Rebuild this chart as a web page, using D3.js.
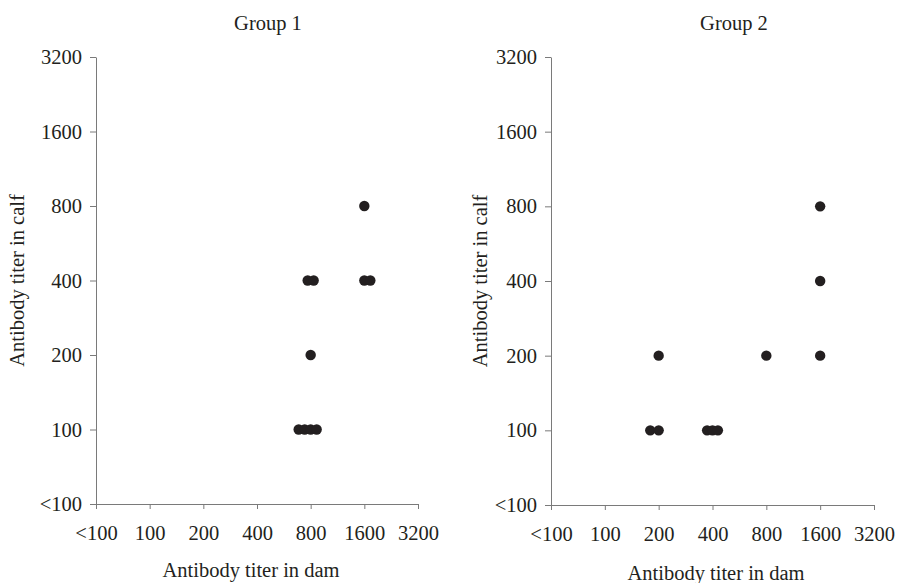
<!DOCTYPE html>
<html>
<head>
<meta charset="utf-8">
<script src="https://cdn.jsdelivr.net/npm/d3@7"></script>
<style>
  body { margin: 0; background: #fff; }
  text { font-family: "Liberation Serif", "Times New Roman", serif; fill: #231f20; }
  .axis path, .axis line { stroke: #7a7a7a; stroke-width: 1; }
  .axis text { font-size: 20.5px; }
</style>
</head>
<body>
<script>
// titer levels used on both axes (equally spaced, log2 steps)
var titerLevels = ["<100", "100", "200", "400", "800", "1600", "3200"];

// Group 1: dam titer, calf titer, jitter slot for overlapping dots
var g1Dam  = ["1600", "800", "800", "1600", "1600", "800", "800", "800", "800", "800"];
var g1Calf = ["800", "400", "400", "400", "400", "200", "100", "100", "100", "100"];
var g1Slot = [0, -0.5, 0.5, 0, 1, 0, -2, -1, 0, 1];

// Group 2
var g2Dam  = ["1600", "1600", "1600", "800", "200", "200", "200", "400", "400", "400"];
var g2Calf = ["800", "400", "200", "200", "200", "100", "100", "100", "100", "100"];
var g2Slot = [0, 0, 0, 0, 0, -1.4, 0, -0.9, 0, 0.9];

var panelTitles = ["Group 1", "Group 2"];
var xTitle = "Antibody titer in dam";
var yTitle = "Antibody titer in calf";

var W = 902, H = 583;
var jitter = 6, radius = 5.2;

var svg = d3.select("body").append("svg")
  .attr("width", W)
  .attr("height", H);

var panels = [
  {title: panelTitles[0], dam: g1Dam, calf: g1Calf, slot: g1Slot,
   x0: 96, x1: 418, y0: 57, y1: 504, titleX: 268, xLabX: 251, xLabY: 577, yLabX: 24},
  {title: panelTitles[1], dam: g2Dam, calf: g2Calf, slot: g2Slot,
   x0: 551, x1: 874, y0: 57, y1: 505, titleX: 734, xLabX: 716, xLabY: 580, yLabX: 487}
];

panels.forEach(function(p) {
  var x = d3.scalePoint().domain(titerLevels).range([p.x0, p.x1]);
  var y = d3.scalePoint().domain(titerLevels).range([p.y1, p.y0]);

  var g = svg.append("g");

  g.append("g")
    .attr("class", "axis")
    .attr("transform", "translate(0," + p.y1 + ")")
    .call(d3.axisBottom(x).tickSize(5).tickSizeOuter(0).tickPadding(16));

  g.append("g")
    .attr("class", "axis")
    .attr("transform", "translate(" + p.x0 + ",0)")
    .call(d3.axisLeft(y).tickSize(6).tickSizeOuter(0).tickPadding(8));

  g.selectAll(".axis .domain").attr("fill", "none");

  var pts = p.dam.map(function(d, i) { return {dam: d, calf: p.calf[i], slot: p.slot[i]}; });

  g.append("g")
    .selectAll("circle")
    .data(pts)
    .enter().append("circle")
    .attr("cx", function(d) { return x(d.dam) + d.slot * jitter; })
    .attr("cy", function(d) { return y(d.calf); })
    .attr("r", radius)
    .attr("fill", "#231f20");

  g.append("text")
    .attr("x", p.titleX)
    .attr("y", 30)
    .attr("text-anchor", "middle")
    .style("font-size", "20.5px")
    .text(p.title);

  g.append("text")
    .attr("x", p.xLabX)
    .attr("y", p.xLabY)
    .attr("text-anchor", "middle")
    .style("font-size", "20.5px")
    .text(xTitle);

  g.append("text")
    .attr("transform", "translate(" + p.yLabX + "," + ((p.y0 + p.y1) / 2) + ") rotate(-90)")
    .attr("text-anchor", "middle")
    .style("font-size", "20.5px")
    .text(yTitle);
});
</script>
</body>
</html>
